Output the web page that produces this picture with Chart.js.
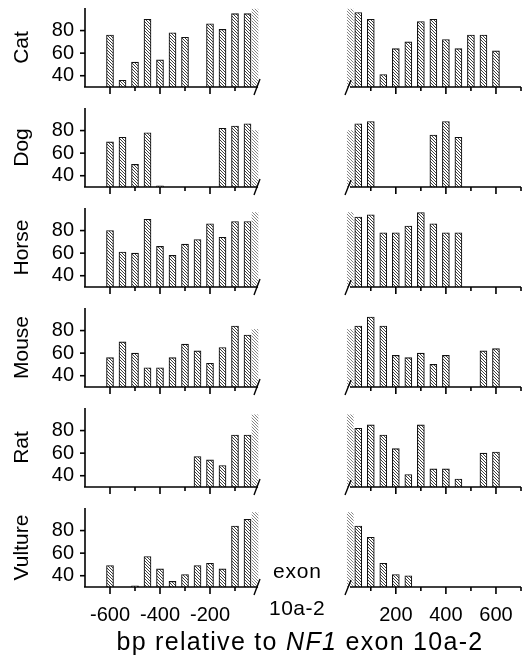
<!DOCTYPE html>
<html lang="en">
<head>
<meta charset="UTF-8">
<title>Conservation around NF1 exon 10a-2</title>
<script src="https://cdn.jsdelivr.net/npm/chart.js"></script>
<style>
    body { margin: 0; background: #fff; width: 523px; height: 658px; position: relative; overflow: hidden; font-family: "Liberation Sans", Arial, sans-serif; }
    canvas { position: absolute; }
    .lbl { position: absolute; font-size: 21px; color: #000; white-space: nowrap; line-height: 1; }
</style>
</head>
<body>
<div id="panels"></div>
<div class="lbl" style="left:273px; top:560px; letter-spacing:0.8px;">exon</div>
<div class="lbl" style="left:269px; top:597px; letter-spacing:0.5px;">10a-2</div>
<div class="lbl" style="left:0; width:600px; text-align:center; top:629px; font-size:25px; letter-spacing:1.3px;">bp relative to <i>NF1</i> exon 10a-2</div>

<script>
    // bar positions (bp relative to the exon)
    const upstreamBp = [-600, -550, -500, -450, -400, -350, -300, -250, -200, -150, -100, -50];
    const downstreamBp = [50, 100, 150, 200, 250, 300, 350, 400, 450, 500, 550, 600];

    const species = ['Cat', 'Dog', 'Horse', 'Mouse', 'Rat', 'Vulture'];

    // % identity per window
    const catUp = [76, 36, 52, 90, 54, 78, 74, null, 86, 81, 95, 95];
    const catDown = [96, 90, 41, 64, 70, 88, 90, 72, 64, 76, 76, 62];
    const dogUp = [70, 74, 50, 78, 31, null, null, null, null, 82, 84, 86];
    const dogDown = [86, 88, null, null, null, null, 76, 88, 74, null, null, null];
    const horseUp = [80, 61, 60, 90, 66, 58, 68, 72, 86, 74, 88, 88];
    const horseDown = [92, 94, 78, 78, 84, 96, 86, 78, 78, null, null, null];
    const mouseUp = [56, 70, 60, 47, 47, 56, 68, 62, 51, 65, 84, 76];
    const mouseDown = [84, 92, 84, 58, 56, 60, 50, 58, null, null, 62, 64];
    const ratUp = [null, null, null, null, null, null, null, 57, 54, 49, 76, 76];
    const ratDown = [82, 85, 76, 64, 41, 85, 46, 46, 37, null, 60, 61];
    const vultureUp = [49, null, 31, 57, 46, 35, 41, 49, 51, 46, 84, 90];
    const vultureDown = [84, 74, 51, 41, 40, null, null, null, null, null, null, null];

    // the exon itself, shown at the break of the axis
    const exonPct = [99, 80, 96, 81, 94, 96];

    const yMin = 30, yMax = 100;
    const yTicks = [40, 50, 60, 70, 80, 90];
    const yTickLabels = [40, 60, 80];
    const leftTicks = [-600, -500, -400, -300, -200, -100];
    const leftTickLabels = [-600, -400, -200];
    const rightTicks = [100, 200, 300, 400, 500, 600, 700];
    const rightTickLabels = [200, 400, 600];

    const upValues = [catUp, dogUp, horseUp, mouseUp, ratUp, vultureUp];
    const downValues = [catDown, dogDown, horseDown, mouseDown, ratDown, vultureDown];

    const FONT = { family: '"Liberation Sans", Arial, sans-serif', size: 20 };

    function makeHatch(size, color, width) {
        const c = document.createElement('canvas');
        c.width = size; c.height = size;
        const g = c.getContext('2d');
        g.fillStyle = '#fff';
        g.fillRect(0, 0, size, size);
        g.strokeStyle = color;
        g.lineWidth = width;
        g.beginPath();
        g.moveTo(-1, -1); g.lineTo(size + 1, size + 1);
        g.moveTo(-1, size - 1); g.lineTo(1, size + 1);
        g.moveTo(size - 1, -1); g.lineTo(size + 1, 1);
        g.stroke();
        return g.createPattern(c, 'repeat');
    }

    const hatch = makeHatch(3, '#2a2a2a', 0.9);
    const exonHatch = makeHatch(3, '#666', 0.8);

    function line(ctx, x1, y1, x2, y2) {
        ctx.beginPath();
        ctx.moveTo(x1, y1);
        ctx.lineTo(x2, y2);
        ctx.stroke();
    }

    // axis line, tick marks of two lengths and the "/" break
    const axisDecor = {
        id: 'axisDecor',
        afterDraw(chart, args, opts) {
            const { ctx, chartArea: a } = chart;
            const x = chart.scales.x, y = chart.scales.y;
            ctx.save();
            ctx.strokeStyle = '#000';
            ctx.lineWidth = 1.6;
            line(ctx, opts.side === 'left' ? a.left - 1 : a.left, a.bottom, a.right, a.bottom);
            x.ticks.forEach(t => {
                const px = x.getPixelForValue(t.value);
                const len = t.value % 200 === 0 ? 7 : 4;
                line(ctx, px, a.bottom, px, a.bottom + len);
            });
            if (opts.side === 'left') {
                line(ctx, a.left, a.top, a.left, a.bottom);
                y.ticks.forEach(t => {
                    const py = y.getPixelForValue(t.value);
                    line(ctx, a.left - 5, py, a.left, py);
                });
                ctx.lineWidth = 1.4;
                line(ctx, a.right - 4, a.bottom + 8, a.right + 2, a.bottom - 8);
            } else {
                ctx.lineWidth = 1.4;
                line(ctx, a.left - 5, a.bottom + 8, a.left + 1, a.bottom - 7);
            }
            ctx.restore();
        }
    };

    function makePanel(row, side) {
        const last = row === species.length - 1;
        const left = side === 'left';
        const canvas = document.createElement('canvas');
        const w = left ? 265 : 253;
        const h = last ? 158 : 100;
        canvas.width = w; canvas.height = h;
        canvas.style.left = (left ? 0 : 270) + 'px';
        canvas.style.top = (row * 100) + 'px';
        document.getElementById('panels').appendChild(canvas);

        const pos = left ? upstreamBp : downstreamBp;
        const vals = left ? upValues[row] : downValues[row];
        const pts = pos.map((p, i) => ({ x: p, y: vals[i] })).filter(p => p.y !== null);
        const xTicks = left ? leftTicks : rightTicks;
        const tickLabels = left ? leftTickLabels : rightTickLabels;

        new Chart(canvas, {
            type: 'bar',
            data: {
                datasets: [
                    {
                        data: pts,
                        base: yMin,
                        backgroundColor: hatch,
                        borderColor: '#111',
                        borderWidth: 1.1,
                        barThickness: 7,
                        grouped: false
                    },
                    {
                        data: [{ x: left ? -20 : 18, y: exonPct[row] }],
                        base: yMin,
                        backgroundColor: exonHatch,
                        borderWidth: 0,
                        barThickness: 6,
                        grouped: false,
                        clip: false
                    }
                ]
            },
            options: {
                responsive: false,
                animation: false,
                events: [],
                layout: { padding: { top: 8, right: left ? 7 : 2, left: left ? 0 : 80, bottom: 0 } },
                plugins: {
                    legend: { display: false },
                    tooltip: { enabled: false },
                    axisDecor: { side: side }
                },
                scales: {
                    x: {
                        type: 'linear',
                        offset: false,
                        min: left ? -700 : 17,
                        max: left ? -8 : 700,
                        grid: { display: false, drawTicks: false, offset: false },
                        border: { display: false },
                        afterBuildTicks: s => { s.ticks = xTicks.map(v => ({ value: v })); },
                        ticks: {
                            autoSkip: false,
                            maxRotation: 0,
                            color: '#000',
                            font: FONT,
                            padding: 16,
                            callback: v => (last && tickLabels.includes(v)) ? String(v) : ''
                        },
                        afterFit: s => {
                            s.height = last ? 71 : 13;
                            s.paddingLeft = 0; s.paddingRight = 0;
                        }
                    },
                    y: {
                        display: left,
                        min: yMin,
                        max: yMax,
                        beginAtZero: false,
                        grid: { display: false, drawTicks: false },
                        border: { display: false },
                        afterBuildTicks: s => { s.ticks = yTicks.map(v => ({ value: v })); },
                        ticks: {
                            color: '#000',
                            font: FONT,
                            padding: 11,
                            callback: v => yTickLabels.includes(v) ? String(v) : ''
                        },
                        title: {
                            display: true,
                            text: species[row],
                            color: '#000',
                            font: { family: FONT.family, size: 21 },
                            padding: { top: 10, bottom: 0 }
                        },
                        afterFit: s => {
                            if (left) s.width = 85;
                            s.paddingTop = 0; s.paddingBottom = 0;
                        }
                    }
                }
            },
            plugins: [axisDecor]
        });
    }

    species.forEach((s, r) => {
        makePanel(r, 'left');
        makePanel(r, 'right');
    });
</script>
</body>
</html>
